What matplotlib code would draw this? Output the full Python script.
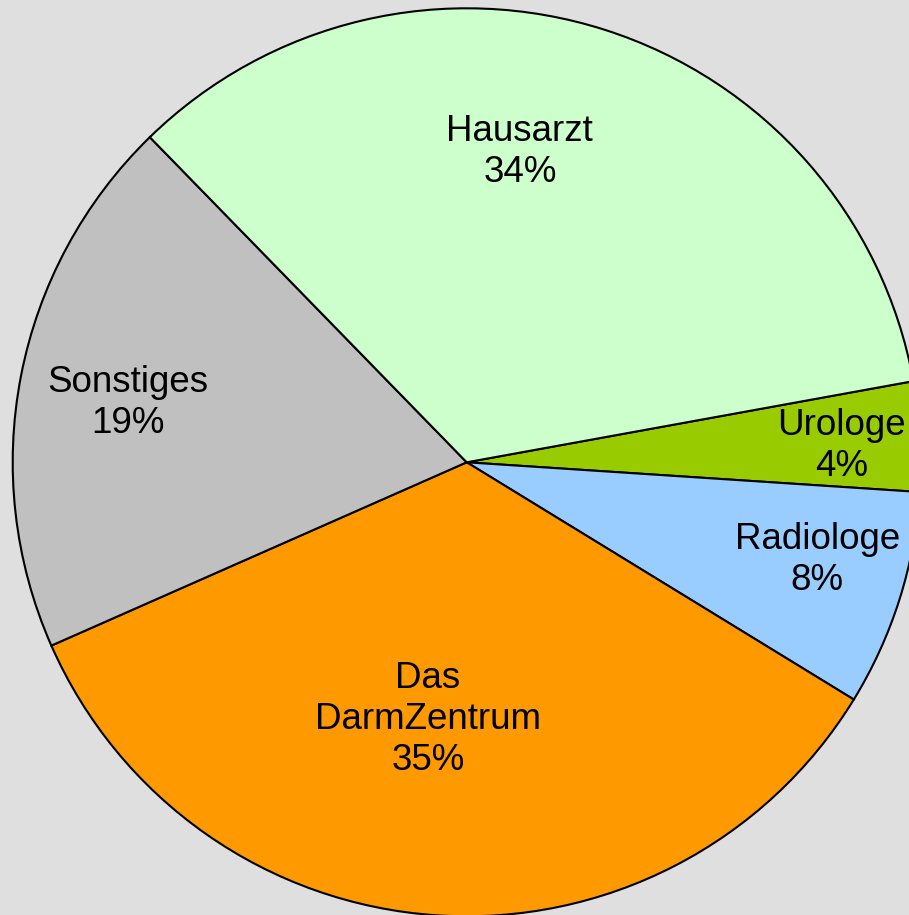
import matplotlib
matplotlib.use("Agg")
import matplotlib.pyplot as plt

# data, clockwise from the right edge
categories = ["Urologe", "Radiologe", "Das\nDarmZentrum", "Sonstiges", "Hausarzt"]
values = [3.9, 7.7, 34.6, 19.3, 34.4]
pct_labels = ["4%", "8%", "35%", "19%", "34%"]
colors = ["#99CC00", "#99CCFF", "#FF9900", "#C0C0C0", "#CCFFCC"]

# label centres (pie radius = 1)
label_xy = [(0.825, 0.036), (0.772, -0.216), (-0.085, -0.566), (-0.746, 0.130), (0.117, 0.683)]

plt.rcParams["font.family"] = ["Liberation Sans", "DejaVu Sans"]

fig = plt.figure(figsize=(9.09, 9.15), dpi=100, facecolor="#DFDFDF")
ax = fig.add_axes([12.7 / 909, -1.3 / 915, 908 / 909, 908 / 915])
ax.set_facecolor("#DFDFDF")

wedges, _ = ax.pie(values, colors=colors, startangle=10.3, counterclock=False,
                   radius=1.0, wedgeprops=dict(edgecolor="black", linewidth=1.5))

for (x, y), name, pct in zip(label_xy, categories, pct_labels):
    ax.text(x, y, f"{name}\n{pct}", ha="center", va="center", fontsize=26.5,
            linespacing=1.22, color="black")

ax.set_xlim(-1, 1)
ax.set_ylim(-1, 1)
ax.set_aspect("auto")
ax.axis("off")

fig.savefig("out.png", dpi=100, facecolor=fig.get_facecolor())
